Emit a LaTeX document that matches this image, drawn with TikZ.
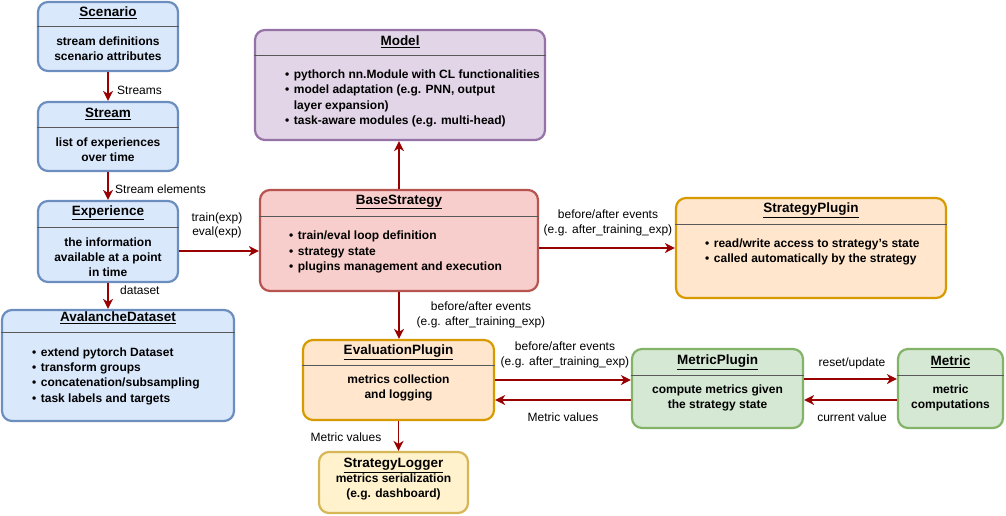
\documentclass[tikz,border=0pt]{standalone}
\usepackage{fontspec}
\setmainfont{Liberation Sans}
\usepackage{xcolor}
\usetikzlibrary{arrows.meta}
\definecolor{bluefill}{HTML}{DAE8FC}\definecolor{bluedraw}{HTML}{6C8EBF}
\definecolor{purplefill}{HTML}{E1D5E7}\definecolor{purpledraw}{HTML}{9673A6}
\definecolor{redfill}{HTML}{F8CECC}\definecolor{reddraw}{HTML}{B85450}
\definecolor{orangefill}{HTML}{FFE6CC}\definecolor{orangedraw}{HTML}{D79B00}
\definecolor{greenfill}{HTML}{D5E8D4}\definecolor{greendraw}{HTML}{82B366}
\definecolor{yellowfill}{HTML}{FFF2CC}\definecolor{yellowdraw}{HTML}{D6B656}
\definecolor{flowred}{HTML}{990000}
\newcommand{\bul}{\textbullet\hspace{4.5pt}}
\begin{document}
\begin{tikzpicture}[x=1pt, y=-1pt,
  box/.style={rectangle, rounded corners=10pt, line width=2.2pt, inner sep=0pt},
  bluebox/.style={box, draw=bluedraw, fill=bluefill},
  purplebox/.style={box, draw=purpledraw, fill=purplefill},
  redbox/.style={box, draw=reddraw, fill=redfill},
  orangebox/.style={box, draw=orangedraw, fill=orangefill},
  greenbox/.style={box, draw=greendraw, fill=greenfill},
  yellowbox/.style={box, draw=yellowdraw, fill=yellowfill},
  title/.style={font=\fontsize{13.5}{15}\selectfont\bfseries, inner sep=0pt},
  body/.style={font=\fontsize{12}{15}\selectfont\bfseries, align=center, inner sep=0pt},
  list/.style={font=\fontsize{12}{15.3}\selectfont\bfseries, align=left, anchor=west, inner sep=0pt},
  divider/.style={draw=black!65, line width=1pt},
  flow/.style={draw=flowred, line width=1.7pt, -{Stealth[length=10pt, width=10pt, inset=3pt]}},
  lbl/.style={font=\fontsize{12}{14.5}\selectfont, align=center, inner sep=0pt}
]
\useasboundingbox (0,0) rectangle (1006,515);

\node[bluebox, minimum width=140pt, minimum height=69pt] (scenario) at (108,36.5) {};
\node[title] (scenariotitle) at (108,13) {\underline{Scenario}};
\draw[divider] (scenario.west |- 0,26) -- (scenario.east |- 0,26);
\node[body] (scenariobody) at (108,48.5) {stream definitions\\scenario attributes};

\node[bluebox, minimum width=140pt, minimum height=69pt] (stream) at (108,136.5) {};
\node[title] (streamtitle) at (108,114) {\underline{Stream}};
\draw[divider] (stream.west |- 0,127) -- (stream.east |- 0,127);
\node[body] (streambody) at (108,149.5) {list of experiences\\over time};

\node[bluebox, minimum width=140pt, minimum height=81pt] (experience) at (108,241.5) {};
\node[title] (experiencetitle) at (108,213) {\underline{Experience}};
\draw[divider] (experience.west |- 0,227) -- (experience.east |- 0,227);
\node[body] (experiencebody) at (108,257) {the information\\available at a point\\in time};

\node[bluebox, minimum width=232pt, minimum height=111pt] (dataset) at (118,365.5) {};
\node[title] (datasettitle) at (118,318) {\underline{AvalancheDataset}};
\draw[divider] (dataset.west |- 0,332) -- (dataset.east |- 0,332);
\node[list] (datasetbody) at (32,376) {\bul extend pytorch Dataset\\\bul transform groups\\\bul concatenation/subsampling\\\bul task labels and targets};

\node[purplebox, minimum width=290pt, minimum height=110pt] (model) at (400,85) {};
\node[title] (modeltitle) at (400,42) {\underline{Model}};
\draw[divider] (model.west |- 0,55) -- (model.east |- 0,55);
\node[list] (modelbody) at (285,98.5) {\bul pythorch nn.Module with CL functionalities\\\bul model adaptation (e.g. PNN, output\\\phantom{\bul}layer expansion)\\\bul task-aware modules (e.g. multi-head)};

\node[redbox, minimum width=278pt, minimum height=101pt] (strategy) at (399,240.5) {};
\node[title] (strategytitle) at (399,202) {\underline{BaseStrategy}};
\draw[divider] (strategy.west |- 0,216) -- (strategy.east |- 0,216);
\node[list] (strategybody) at (289,252) {\bul train/eval loop definition\\\bul strategy state\\\bul plugins management and execution};

\node[orangebox, minimum width=270pt, minimum height=100pt] (plugin) at (811,248) {};
\node[title] (plugintitle) at (811,210) {\underline{StrategyPlugin}};
\draw[divider] (plugin.west |- 0,224) -- (plugin.east |- 0,224);
\node[list] (pluginbody) at (705,252) {\bul read/write access to strategy's state\\\bul called automatically by the strategy};

\node[orangebox, minimum width=191pt, minimum height=80pt] (evaluation) at (398.5,380) {};
\node[title] (evaluationtitle) at (398.5,352) {\underline{EvaluationPlugin}};
\draw[divider] (evaluation.west |- 0,365) -- (evaluation.east |- 0,365);
\node[body] (evaluationbody) at (398.5,387.5) {metrics collection\\and logging};

\node[yellowbox, minimum width=149pt, minimum height=61pt] (logger) at (393.5,482.5) {};
\node[body] (loggerbody) at (393.5,479.5) {{\fontsize{13.5}{15}\selectfont\underline{StrategyLogger}}\\metrics serialization\\(e.g. dashboard)};

\node[greenbox, minimum width=171pt, minimum height=79pt] (metricplugin) at (717.5,388.5) {};
\node[title] (metricplugintitle) at (717.5,362) {\underline{MetricPlugin}};
\draw[divider] (metricplugin.west |- 0,375) -- (metricplugin.east |- 0,375);
\node[body] (metricpluginbody) at (717.5,397.5) {compute metrics given\\the strategy state};

\node[greenbox, minimum width=105pt, minimum height=79pt] (metric) at (950.5,388.5) {};
\node[title] (metrictitle) at (950.5,362) {\underline{Metric}};
\draw[divider] (metric.west |- 0,375) -- (metric.east |- 0,375);
\node[body] (metricbody) at (950.5,397.5) {metric\\computations};

\draw[flow] (scenario.south) -- (stream.north);
\draw[flow] (stream.south) -- (experience.north);
\draw[flow] (experience.south) -- (dataset.north -| experience.south);
\draw[flow] ([yshift=-9.5pt]experience.east) -- ([yshift=-10.5pt]strategy.west);
\draw[flow] (strategy.north) -- (strategy.north |- model.south);
\draw[flow] (strategy.east |- plugin.west) -- (plugin.west);
\draw[flow] (strategy.south) -- (strategy.south |- evaluation.north);
\draw[flow] (evaluation.east) -- ([yshift=8.5pt]metricplugin.west);
\draw[flow] ([yshift=-11.5pt]metricplugin.west) -- ([yshift=-20pt]evaluation.east);
\draw[flow] ([yshift=9.5pt]metricplugin.east) -- ([yshift=9.5pt]metric.west);
\draw[flow] ([yshift=-11.5pt]metric.west) -- ([yshift=-11.5pt]metricplugin.east);
\draw[flow] (evaluation.south) -- (evaluation.south |- logger.north);

\node[lbl, anchor=west] (streamslbl) at (117,90) {Streams};
\node[lbl, anchor=west] (elementslbl) at (115,189) {Stream elements};
\node[lbl, anchor=west] (datasetlbl) at (120,290) {dataset};
\node[lbl] (trainlbl) at (217,225.5) {train(exp)\\eval(exp)};
\node[lbl] (pluginlbl) at (608,223) {before/after events\\(e.g. after\_training\_exp)};
\node[lbl] (evaluationlbl) at (481,315) {before/after events\\(e.g. after\_training\_exp)};
\node[lbl] (metricpluginlbl) at (565,355) {before/after events\\(e.g. after\_training\_exp)};
\node[lbl] (valueslbl) at (563,417) {Metric values};
\node[lbl] (resetlbl) at (852,363) {reset/update};
\node[lbl] (currentlbl) at (852,417) {current value};
\node[lbl] (loggerlbl) at (346,437) {Metric values};
\end{tikzpicture}
\end{document}
